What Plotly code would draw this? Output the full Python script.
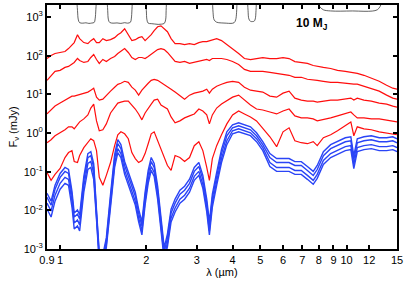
import math
import plotly.graph_objects as go

# ---------------- data ----------------
wavelength_um = [0.90, 0.93, 0.96, 1.00, 1.04, 1.07, 1.10, 1.12, 1.15, 1.17,
                 1.21, 1.25, 1.28, 1.31, 1.34, 1.37, 1.41, 1.45, 1.50, 1.55,
                 1.59, 1.63, 1.68, 1.73, 1.78, 1.83, 1.88, 1.93, 1.98, 2.03,
                 2.08, 2.13, 2.19, 2.25, 2.31, 2.37, 2.44, 2.52, 2.62, 2.72,
                 2.83, 2.94, 3.05, 3.15, 3.25, 3.32, 3.40, 3.52, 3.66, 3.82,
                 4.00, 4.20, 4.40, 4.62, 4.85, 5.10, 5.40, 5.70, 6.00, 6.30,
                 6.60, 6.95, 7.30, 7.65, 7.90, 8.30, 8.80, 9.30, 9.90, 10.35,
                 10.60, 10.90, 11.50, 12.20, 13.00, 13.80, 14.50, 15.00]

# red spectra (mJy), brightest to faintest
red_1 = [85, 102, 115, 122, 129, 154, 195, 220, 352, 278,
         220, 207, 247, 278, 220, 220, 278, 247, 262, 295,
         352, 396, 501, 352, 247, 262, 295, 313, 247, 295,
         352, 446, 564, 598, 501, 420, 278, 207, 207, 195,
         207, 195, 220, 233, 233, 247, 262, 278, 247, 195,
         154, 115, 85, 80, 85, 90, 85, 85, 90, 85,
         71, 67, 63.5, 56, 53, 50, 47, 42, 39.6, 37.3,
         37.3, 35.2, 31.3, 26.2, 21.9, 17.3, 14.5, 13.7]
red_2 = [23.2, 31.3, 39.6, 42.0, 50.2, 53.2, 63.5, 67.3, 85.3, 75.8,
         67.3, 71.4, 90.5, 108, 80.4, 63.5, 80.4, 71.4, 85.3, 96,
         115, 129, 154, 122, 90.5, 80.4, 90.5, 90.5, 85.3, 96,
         108, 122, 145, 154, 145, 122, 96, 71.4, 67.3, 71.4,
         63.5, 67.3, 71.4, 75.8, 80.4, 75.8, 85.3, 85.3, 85.3, 80.4,
         71.4, 59.8, 44.6, 39.6, 39.6, 39.6, 37.3, 35.2, 33.2, 31.3,
         27.8, 27.8, 24.7, 23.2, 23.2, 21.9, 20.6, 20.6, 19.5, 18.4,
         18.4, 18.4, 16.3, 14.5, 12.2, 9.59, 8.04, 7.58]
red_3 = [3.13, 3.96, 5.01, 5.98, 7.14, 8.04, 9.04, 9.04, 9.59, 9.59,
         10.8, 11.5, 12.9, 14.5, 8.52, 7.14, 7.57, 9.59, 12.2, 15.4,
         18.3, 19.5, 21.9, 20.6, 15.4, 12.9, 9.59, 12.9, 16.3, 19.5,
         23.2, 24.6, 23.2, 20.6, 18.3, 16.3, 13.7, 11.5, 9.04, 7.57,
         9.59, 10.8, 11.5, 12.2, 13.7, 10.8, 13.7, 16.3, 18.3, 20.6,
         21.9, 20.6, 15.4, 12.9, 12.2, 11.5, 9.04, 8.52, 10.8, 12.2,
         8.04, 7.14, 6.73, 6.73, 6.35, 6.73, 7.14, 7.14, 7.57, 8.04,
         7.14, 8.04, 7.14, 6.73, 5.98, 5.64, 5.01, 4.72]
red_4 = [0.564, 0.674, 0.853, 1.02, 1.22, 1.45, 1.45, 1.29, 1.73, 1.95,
         2.33, 2.95, 4.45, 5.64, 2.07, 1.15, 1.22, 1.73, 3.32, 4.72,
         5.98, 6.35, 6.73, 6.73, 5.32, 4.20, 3.13, 2.20, 3.32, 4.45,
         5.64, 7.14, 7.57, 5.32, 4.72, 4.20, 2.62, 1.84, 2.07, 2.47,
         2.78, 3.13, 4.20, 3.73, 2.95, 1.73, 2.95, 4.45, 5.64, 6.73,
         8.52, 9.59, 7.14, 5.32, 4.20, 3.96, 3.52, 3.13, 3.73, 4.20,
         2.78, 2.47, 2.47, 2.33, 2.07, 2.20, 2.47, 2.78, 3.13, 3.52,
         2.95, 2.47, 2.47, 2.33, 2.33, 2.20, 2.07, 1.95]
red_5 = [0.0960, 0.0598, 0.0853, 0.1215, 0.233, 0.313, 0.352, 0.184, 0.173, 0.262,
         0.420, 0.564, 0.714, 0.635, 0.352, 0.0715, 0.0446, 0.0804, 0.173, 0.472,
         0.905, 1.08, 0.960, 0.714, 0.313, 0.219, 0.173, 0.195, 0.295, 0.531,
         0.960, 1.08, 0.635, 0.352, 0.219, 0.145, 0.108, 0.262, 0.233, 0.184,
         0.233, 0.472, 0.599, 0.352, 0.129, 0.0598, 0.219, 0.472, 0.905, 1.73,
         2.95, 3.73, 3.13, 2.62, 2.07, 1.29, 0.804, 0.445, 1.08, 1.37,
         0.635, 0.564, 0.531, 0.599, 0.472, 0.758, 0.905, 1.15, 1.54, 1.95,
         0.853, 1.45, 1.29, 1.22, 1.08, 1.02, 0.960, 0.905]

# blue spectra (mJy)
blue_1 = [0.0278, 0.0173, 0.0446, 0.0903, 0.129, 0.114, 0.0313, 0.00852, 0.0102, 0.00757,
          0.0758, 0.294, 0.331, 0.163, 0.0101, 0.000801, 0.000713, 0.00194, 0.0263, 0.279,
          0.675, 0.503, 0.184, 0.0962, 0.0535, 0.0296, 0.0108, 0.00503, 0.0296, 0.108,
          0.233, 0.164, 0.0422, 0.0060, 0.00108, 0.00247, 0.0108, 0.0196, 0.0333, 0.0422,
          0.0638, 0.129, 0.174, 0.0807, 0.0196, 0.00503, 0.0263, 0.0962, 0.375, 1.08,
          1.64, 1.84, 1.64, 1.46, 1.02, 0.599, 0.294, 0.219, 0.219, 0.219,
          0.183, 0.183, 0.137, 0.102, 0.145, 0.331, 0.501, 0.598, 0.757, 0.802,
          0.261, 0.713, 0.802, 0.852, 0.757, 0.757, 0.802, 0.713]
blue_2 = [0.0219, 0.0137, 0.0351, 0.0712, 0.1015, 0.0902, 0.0246, 0.00671, 0.0080, 0.00596,
          0.0597, 0.232, 0.261, 0.1285, 0.00852, 0.000673, 0.000599, 0.00163, 0.0207, 0.219,
          0.531, 0.396, 0.145, 0.0757, 0.0421, 0.0233, 0.00852, 0.00396, 0.0233, 0.0853,
          0.183, 0.129, 0.0332, 0.00473, 0.000853, 0.00195, 0.00852, 0.0154, 0.0262, 0.0332,
          0.0502, 0.102, 0.137, 0.0635, 0.0154, 0.00396, 0.0207, 0.0757, 0.295, 0.853,
          1.37, 1.54, 1.37, 1.22, 0.852, 0.500, 0.232, 0.173, 0.173, 0.173,
          0.145, 0.145, 0.108, 0.0801, 0.114, 0.261, 0.395, 0.471, 0.596, 0.632,
          0.206, 0.562, 0.632, 0.671, 0.596, 0.596, 0.632, 0.562]
blue_3 = [0.0154, 0.00962, 0.0247, 0.0501, 0.0715, 0.0635, 0.0173, 0.00473, 0.00564, 0.0042,
          0.0421, 0.163, 0.184, 0.0905, 0.00673, 0.000532, 0.000473, 0.00129, 0.0154, 0.163,
          0.396, 0.295, 0.108, 0.0564, 0.0313, 0.0173, 0.00634, 0.00295, 0.0173, 0.0635,
          0.137, 0.096, 0.0247, 0.00352, 0.000635, 0.00145, 0.00634, 0.0115, 0.0195, 0.0247,
          0.0374, 0.0758, 0.102, 0.0473, 0.0115, 0.00295, 0.0154, 0.0564, 0.220, 0.635,
          1.15, 1.29, 1.15, 1.02, 0.715, 0.420, 0.173, 0.129, 0.129, 0.129,
          0.108, 0.108, 0.0805, 0.0598, 0.0853, 0.195, 0.295, 0.352, 0.445, 0.472,
          0.154, 0.420, 0.472, 0.501, 0.445, 0.445, 0.472, 0.420]
blue_4 = [0.0108, 0.00675, 0.0173, 0.0352, 0.0502, 0.0446, 0.0122, 0.00332, 0.00396, 0.00295,
          0.0295, 0.115, 0.129, 0.0635, 0.00564, 0.000446, 0.000396, 0.00108, 0.0122, 0.129,
          0.312, 0.233, 0.0854, 0.0446, 0.0248, 0.0137, 0.00501, 0.00233, 0.0137, 0.0502,
          0.108, 0.0759, 0.0195, 0.00278, 0.000502, 0.00115, 0.00501, 0.00907, 0.0154, 0.0195,
          0.0295, 0.0599, 0.0804, 0.0373, 0.00907, 0.00233, 0.0122, 0.0446, 0.173, 0.502,
          0.961, 1.08, 0.961, 0.857, 0.599, 0.352, 0.137, 0.102, 0.102, 0.102,
          0.0853, 0.0853, 0.0635, 0.0472, 0.0674, 0.154, 0.233, 0.278, 0.352, 0.373,
          0.121, 0.331, 0.373, 0.396, 0.352, 0.352, 0.373, 0.331]

# filter transmission outlines drawn at the top (arbitrary flux units)
filt_J_lam = [1.140, 1.150, 1.158, 1.170, 1.200, 1.230, 1.260, 1.290, 1.315, 1.325, 1.333, 1.342]
filt_J_val = [4000, 1500, 850, 720, 700, 715, 690, 705, 730, 900, 1600, 4000]
filt_H_lam = [1.455, 1.466, 1.475, 1.490, 1.530, 1.580, 1.630, 1.680, 1.720, 1.760, 1.772, 1.782, 1.790]
filt_H_val = [4000, 1500, 850, 730, 700, 710, 690, 720, 700, 740, 900, 1600, 4000]
filt_K_lam = [1.990, 2.000, 2.010, 2.030, 2.080, 2.140, 2.200, 2.260, 2.310, 2.335, 2.345, 2.355]
filt_K_val = [4000, 1500, 850, 700, 680, 665, 650, 660, 690, 850, 1500, 4000]
filt_L_lam = [3.40, 3.42, 3.45, 3.52, 3.65, 3.80, 3.95, 4.05, 4.10, 4.13, 4.15]
filt_L_val = [4000, 1300, 850, 740, 710, 700, 690, 720, 850, 1300, 4000]
filt_M_lam = [4.50, 4.53, 4.56, 4.62, 4.70, 4.76, 4.80, 4.83, 4.85]
filt_M_val = [4000, 1500, 900, 780, 770, 790, 900, 1500, 4000]
filt_N_lam = [7.95, 8.05, 8.30, 8.80, 9.50, 10.5, 11.5, 12.3, 12.8, 13.1, 13.3]
filt_N_val = [2600, 1900, 1550, 1450, 1430, 1450, 1420, 1440, 1550, 1900, 2600]

x_tick_vals = [0.9, 1, 2, 3, 4, 5, 6, 7, 8, 9, 10, 12, 15]
x_tick_text = ["0.9", "1", "2", "3", "4", "5", "6", "7", "8", "9", "10", "12", "15"]
y_tick_vals = [1e-3, 1e-2, 1e-1, 1e0, 1e1, 1e2, 1e3]
y_tick_text = ["10<sup>-3</sup>", "10<sup>-2</sup>", "10<sup>-1</sup>", "10<sup>0</sup>",
               "10<sup>1</sup>", "10<sup>2</sup>", "10<sup>3</sup>"]

# ---------------- figure ----------------
RED = "#ff0d0d"
BLUE = "#2a44f6"
FILT = "#3a3a3a"
FONT = "Liberation Sans, Arial, Helvetica, sans-serif"

fig = go.Figure()

for lam, val in [(filt_J_lam, filt_J_val), (filt_H_lam, filt_H_val), (filt_K_lam, filt_K_val),
                 (filt_L_lam, filt_L_val), (filt_M_lam, filt_M_val), (filt_N_lam, filt_N_val)]:
    fig.add_trace(go.Scatter(x=lam, y=val, mode="lines", line=dict(color=FILT, width=0.8),
                             line_shape="spline", hoverinfo="skip", showlegend=False))

for b in [blue_1, blue_2, blue_3, blue_4]:
    fig.add_trace(go.Scatter(x=wavelength_um, y=b, mode="lines",
                             line=dict(color=BLUE, width=1.4), showlegend=False))

for r in [red_1, red_2, red_3, red_4, red_5]:
    fig.add_trace(go.Scatter(x=wavelength_um, y=r, mode="lines",
                             line=dict(color=RED, width=1.2), showlegend=False))

axis_common = dict(showline=True, linewidth=2, linecolor="black", mirror="ticks",
                   ticks="inside", ticklen=4, tickwidth=1.5, tickcolor="black",
                   showgrid=False, zeroline=False,
                   tickfont=dict(family=FONT, size=11, color="black"))

fig.update_xaxes(type="log", range=[math.log10(0.9), math.log10(15)],
                 tickmode="array", tickvals=x_tick_vals, ticktext=x_tick_text,
                 title=dict(text="λ (µm)", font=dict(family=FONT, size=11, color="black"), standoff=2),
                 **axis_common)
fig.update_yaxes(type="log", range=[-3, 3.315],
                 tickmode="array", tickvals=y_tick_vals, ticktext=y_tick_text,
                 title=dict(text="F<sub>ν</sub> (mJy)", font=dict(family=FONT, size=11, color="black"), standoff=4),
                 **axis_common)

fig.add_annotation(text="<b>10 M<sub>J</sub></b>", xref="paper", yref="paper",
                   x=0.706, y=0.965, xanchor="left", yanchor="top", showarrow=False,
                   font=dict(family=FONT, size=12, color="black"))

fig.update_layout(width=407, height=281, margin=dict(l=47, r=10, t=3, b=32),
                  paper_bgcolor="white", plot_bgcolor="white",
                  font=dict(family=FONT, size=11, color="black"))

fig.write_html("out.html", config={"displayModeBar": False},
               post_script="document.body.style.margin='0';document.body.style.padding='0';")
